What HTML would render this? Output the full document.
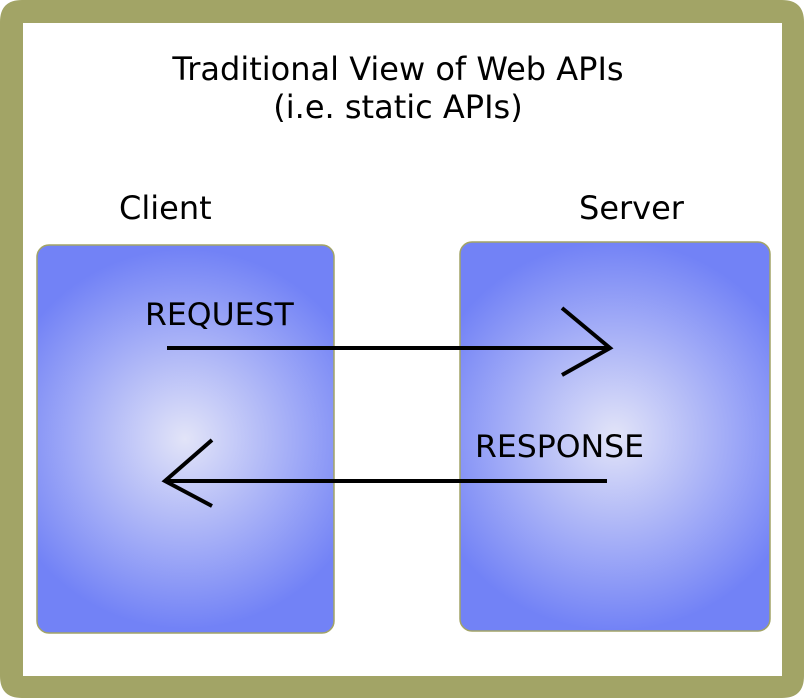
<!DOCTYPE html>
<html><head><style>
html,body{margin:0;padding:0;background:#fff;}
svg{display:block;}
text{font-family:"DejaVu Sans","Liberation Sans",sans-serif;fill:#000;}
</style></head><body>
<svg width="804" height="698" viewBox="0 0 804 698" xmlns="http://www.w3.org/2000/svg">
<defs>
<radialGradient id="g1" gradientUnits="userSpaceOnUse" cx="185" cy="439" r="190">
<stop offset="0" stop-color="#e2e4f8"/>
<stop offset="1" stop-color="#7282f6"/>
</radialGradient>
<radialGradient id="g2" gradientUnits="userSpaceOnUse" cx="615" cy="436" r="195">
<stop offset="0" stop-color="#e2e4f8"/>
<stop offset="1" stop-color="#7282f6"/>
</radialGradient>
</defs>
<path fill-rule="evenodd" fill="#a2a466" d="M22,0 H782 Q804,0 804,22 V676 Q804,698 782,698 H22 Q0,698 0,676 V22 Q0,0 22,0 Z M23,23 V676 H782 V23 Z"/>
<rect x="37" y="245" width="297" height="388" rx="12" fill="url(#g1)" stroke="#a2a466" stroke-width="1.5"/>
<rect x="460" y="242" width="310" height="389" rx="12" fill="url(#g2)" stroke="#a2a466" stroke-width="1.5"/>
<text x="398" y="80" font-size="32" text-anchor="middle">Traditional View of Web APIs</text>
<text x="398" y="118" font-size="32" text-anchor="middle">(i.e. static APIs)</text>
<text x="119" y="219" font-size="32">Client</text>
<text x="579" y="219" font-size="32">Server</text>
<text x="145" y="325" font-size="31.5">REQUEST</text>
<text x="475" y="457" font-size="31.5">RESPONSE</text>
<g stroke="#000" stroke-width="4" fill="none">
<line x1="167" y1="348" x2="610" y2="348"/>
<polyline points="562,308 610,348 562,375"/>
<line x1="607" y1="481" x2="165" y2="481"/>
<polyline points="212,440 165,481 212,506"/>
</g>
</svg>
</body></html>
